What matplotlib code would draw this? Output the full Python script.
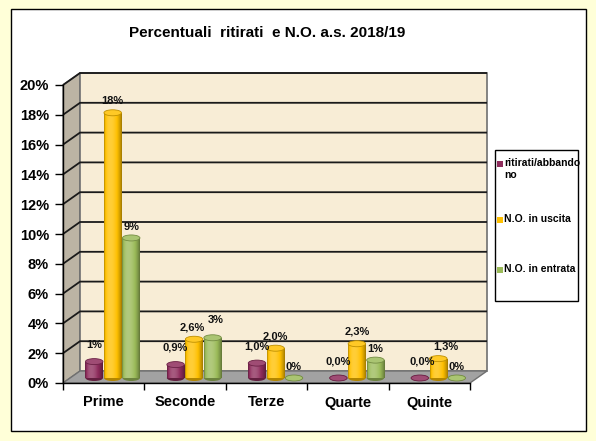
import numpy as np
import matplotlib
matplotlib.use('Agg')
import matplotlib.pyplot as plt
from matplotlib.patches import Rectangle, Ellipse, Polygon
from matplotlib.colors import to_rgb

plt.rcParams['font.family'] = ['Liberation Sans', 'DejaVu Sans']

# ---------------- data ----------------
categories = ['Prime', 'Seconde', 'Terze', 'Quarte', 'Quinte']
series_names = ['ritirati/abbando\nno', 'N.O. in uscita', 'N.O. in entrata']
ritirati = [1.1, 0.9, 1.0, 0.0, 0.0]
uscita = [17.8, 2.6, 2.0, 2.3, 1.3]
entrata = [9.4, 2.7, 0.0, 1.2, 0.0]
lab_ritirati = ['1%', '0,9%', '1,0%', '0,0%', '0,0%']
lab_uscita = ['18%', '2,6%', '2,0%', '2,3%', '1,3%']
lab_entrata = ['9%', '3%', '0%', '1%', '0%']
yticks = [0, 2, 4, 6, 8, 10, 12, 14, 16, 18, 20]
title = 'Percentuali  ritirati  e N.O. a.s. 2018/19'

series = [ritirati, uscita, entrata]
labels = [lab_ritirati, lab_uscita, lab_entrata]
colors = ['#8E2C5C', '#FFC000', '#9BBB59']

# label nudges (pixels) to avoid collisions, keyed by (series, category)
nudges = {(1, 1): (-2, 0), (2, 1): (3, 7), (1, 4): (8, 0), (0, 4): (2, 0)}

# ---------------- figure ----------------
W, H = 596, 441
fig = plt.figure(figsize=(W / 100, H / 100), dpi=100, facecolor='#FFFFD8')
fig.patches.append(Rectangle((11 / W, 1 - 431 / H), (586 - 11) / W, (431 - 9) / H,
                             transform=fig.transFigure, facecolor='white',
                             edgecolor='black', lw=1.0, zorder=-10))

ax = fig.add_axes([63 / W, 58 / H, 407 / W, 298 / H])
ax.set_xlim(0, len(categories))
ax.set_ylim(0, 20)
ax.set_facecolor('none')

# pixel -> data conversions
inv = ax.transData.inverted()
p0 = ax.transData.transform((0, 0))
def px(dx, dy):
    q = inv.transform((p0[0] + dx, p0[1] + dy))
    return q[0], q[1]
DX, DY = px(17, 12)
BX, BY = px(9, 5)
PXX, PXY = px(1, 1)

n = len(categories)
# side wall
ax.add_patch(Polygon([(0, 0), (DX, DY), (DX, 20 + DY), (0, 20)], closed=True,
                     facecolor='#BCB4A4', edgecolor='#707070', lw=1, zorder=1, clip_on=False))
# back wall
ax.add_patch(Rectangle((DX, DY), n, 20, facecolor='#F8EDD6', edgecolor='#707070',
                       lw=1.2, zorder=1, clip_on=False))
# floor
ax.add_patch(Polygon([(0, 0), (n, 0), (n + DX, DY), (DX, DY)], closed=True,
                     facecolor='#A2A2A2', edgecolor='#707070', lw=1, zorder=2, clip_on=False))
# gridlines
for y in yticks[1:]:
    ax.plot([0, DX, n + DX], [y, y + DY, y + DY], color='#1A1A1A', lw=1.3,
            zorder=1.5, clip_on=False, solid_capstyle='butt')


def shade(c, f):
    c = np.array(c)
    if f <= 1:
        return c * f
    return c + (1 - c) * min(f - 1, 1)


def cylinder(xc, v, w, color, z):
    c = to_rgb(color)
    base = BY
    top = BY + v
    eh = 6 * PXY
    t = np.linspace(0, 1, 64)
    f = 0.62 + 0.6 * np.sin(np.pi * t ** 0.66) ** 0.8
    grad = np.array([[shade(c, fi) for fi in f]])
    ax.add_patch(Ellipse((xc, base), w, eh, facecolor=shade(c, 0.7), edgecolor='none',
                         zorder=z, clip_on=False))
    if v > 0:
        rect = Rectangle((xc - w / 2, base), w, v, facecolor='none', edgecolor='none',
                         zorder=z)
        ax.add_patch(rect)
        im = ax.imshow(grad, extent=(xc - w / 2, xc + w / 2, base, top), aspect='auto',
                       zorder=z, interpolation='bilinear')
        im.set_clip_path(rect)
    ax.add_patch(Ellipse((xc, top), w, eh, facecolor=shade(c, 1.15),
                         edgecolor=shade(c, 0.75), lw=0.6, zorder=z + 0.01, clip_on=False))


bw = 17.5 * PXX
sep = 18.5 * PXX
lab_off = [17, 12, 11]
for i in range(n):
    for k, vals in enumerate(series):
        xc = i + 0.5 + BX + (k - 1) * sep
        cylinder(xc, vals[i], bw, colors[k], 3 + k * 0.1 + i * 0.01)
        nx, ny = nudges.get((k, i), (0, 0))
        ax.text(xc + nx * PXX, BY + vals[i] + (lab_off[k] + ny) * PXY, labels[k][i],
                ha='center', va='center', fontsize=8, fontweight='bold',
                color='#111111', zorder=6)

ax.set_xlim(0, n)
ax.set_ylim(0, 20)

# axes
for s in ['top', 'right']:
    ax.spines[s].set_visible(False)
for s in ['left', 'bottom']:
    ax.spines[s].set_color('black')
    ax.spines[s].set_linewidth(1.0)
    ax.spines[s].set_zorder(5)
ax.set_yticks(yticks)
ax.set_yticklabels([f'{v}%' for v in yticks], fontsize=10.5, fontweight='bold')
ax.tick_params(axis='y', direction='out', length=6, width=1, pad=4)
ax.set_xticks(np.arange(n + 1))
ax.set_xticklabels([])
ax.tick_params(axis='x', which='major', direction='out', length=5, width=1)
ax.set_xticks(np.arange(n) + 0.5, minor=True)
ax.set_xticklabels(categories, minor=True, fontsize=10.5, fontweight='bold')
ax.tick_params(axis='x', which='minor', length=0, pad=9)

# title
fig.text(267 / W, 1 - 33 / H, title, ha='center', va='center', fontsize=11,
         fontweight='bold')

# legend
fig.patches.append(Rectangle((495 / W, 1 - 301 / H), 83 / W, 151 / H,
                             transform=fig.transFigure, facecolor='white',
                             edgecolor='black', lw=1.0, zorder=1))
leg_y = [164, 220, 270]
for k, name in enumerate(series_names):
    y = leg_y[k]
    fig.patches.append(Rectangle((497 / W, 1 - (y + 3) / H), 6 / W, 6 / H,
                                 transform=fig.transFigure, facecolor=colors[k],
                                 edgecolor='none', zorder=2))
    fig.text(504 / W, 1 - (y - 5.5) / H, name, ha='left', va='top', fontsize=7.5,
             fontweight='bold', linespacing=1.2, zorder=3)

fig.savefig('out.png', dpi=100, facecolor=fig.get_facecolor())
